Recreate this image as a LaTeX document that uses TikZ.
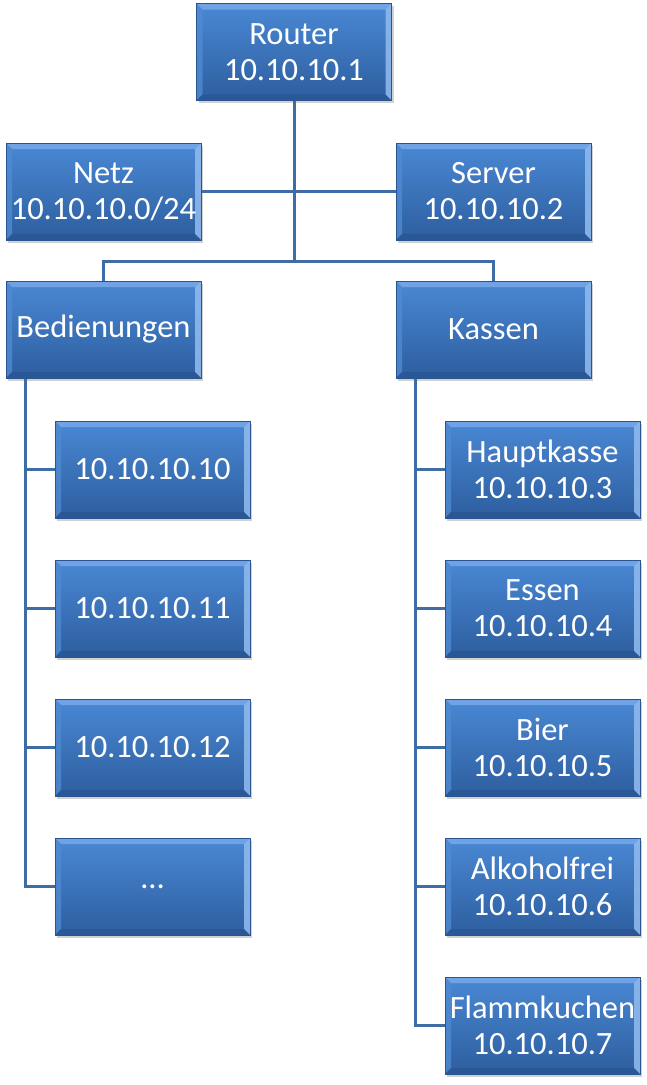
\documentclass[tikz,border=0pt]{standalone}
\usepackage{fontspec}
\setmainfont{Carlito}
\usetikzlibrary{shadows,backgrounds,calc}
\definecolor{bxtop}{HTML}{4A88D4}
\definecolor{bxbot}{HTML}{2D5E9F}
\definecolor{bxedge}{HTML}{2A5590}
\definecolor{bvtop}{HTML}{6FA3E6}
\definecolor{bvleft}{HTML}{4F8AD2}
\definecolor{bvright}{HTML}{8DB8EC}
\definecolor{bvbot}{HTML}{2A5896}
\definecolor{lnc}{HTML}{3E6CA4}
\newcommand{\bxfont}{\fontsize{32.5}{36}\selectfont}
\tikzset{
  bx/.style={rectangle, minimum width=195pt, minimum height=97pt, inner sep=0pt,
    text=white, align=center, font=\bxfont,
    top color=bxtop, bottom color=bxbot, draw=bxedge, line width=0.6pt,
    drop shadow={opacity=0.3, shadow xshift=2pt, shadow yshift=-2.5pt, fill=black!60},
    path picture={
      \fill[bvtop] (path picture bounding box.north west) -- (path picture bounding box.north east)
        -- ([xshift=-6pt,yshift=-6pt]path picture bounding box.north east)
        -- ([xshift=6pt,yshift=-6pt]path picture bounding box.north west) -- cycle;
      \fill[bvleft,opacity=0.8] (path picture bounding box.north west) -- (path picture bounding box.south west)
        -- ([xshift=6pt,yshift=6pt]path picture bounding box.south west)
        -- ([xshift=6pt,yshift=-6pt]path picture bounding box.north west) -- cycle;
      \fill[bvright,opacity=0.9] (path picture bounding box.north east) -- (path picture bounding box.south east)
        -- ([xshift=-6pt,yshift=6pt]path picture bounding box.south east)
        -- ([xshift=-6pt,yshift=-6pt]path picture bounding box.north east) -- cycle;
      \fill[bvbot] (path picture bounding box.south west) -- (path picture bounding box.south east)
        -- ([xshift=-6pt,yshift=6pt]path picture bounding box.south east)
        -- ([xshift=6pt,yshift=6pt]path picture bounding box.south west) -- cycle;
    }},
  ln/.style={draw=lnc, line width=3pt}
}
\begin{document}
\begin{tikzpicture}[x=1pt,y=-1pt]
\useasboundingbox (0,0) rectangle (647,1085);
\node[bx] (R) at (294,52) {Router\\10.10.10.1};
\node[bx] (N) at (103.5,191.5) {Netz\\10.10.10.0/24};
\node[bx] (S) at (493.5,191.5) {Server\\10.10.10.2};
\node[bx] (B) at (103.5,329.5) {Bedienungen};
\node[bx] (K) at (493.5,329.5) {Kassen};
\node[bx] (b1) at (152.5,469.5) {10.10.10.10};
\node[bx] (b2) at (152.5,608.5) {10.10.10.11};
\node[bx] (b3) at (152.5,747.5) {10.10.10.12};
\node[bx] (b4) at (152.5,886.5) {…};
\node[bx] (k1) at (542.5,469.5) {Hauptkasse\\10.10.10.3};
\node[bx] (k2) at (542.5,608.5) {Essen\\10.10.10.4};
\node[bx] (k3) at (542.5,747.5) {Bier\\10.10.10.5};
\node[bx] (k4) at (542.5,886.5) {Alkoholfrei\\10.10.10.6};
\node[bx] (k5) at (542.5,1025.5) {Flammkuchen\\10.10.10.7};
\coordinate (bus) at (294,261);
\coordinate (bl) at (25,378);
\coordinate (kl) at (415,378);
\begin{scope}[on background layer]
\draw[ln] (R.south) -- (bus);
\draw[ln] (N.east) -- (S.west);
\draw[ln] (B.north) |- (bus) -| (K.north);
\foreach \c in {b1,b2,b3,b4} \draw[ln] (bl) |- (\c.west);
\foreach \c in {k1,k2,k3,k4,k5} \draw[ln] (kl) |- (\c.west);
\end{scope}
\end{tikzpicture}
\end{document}
